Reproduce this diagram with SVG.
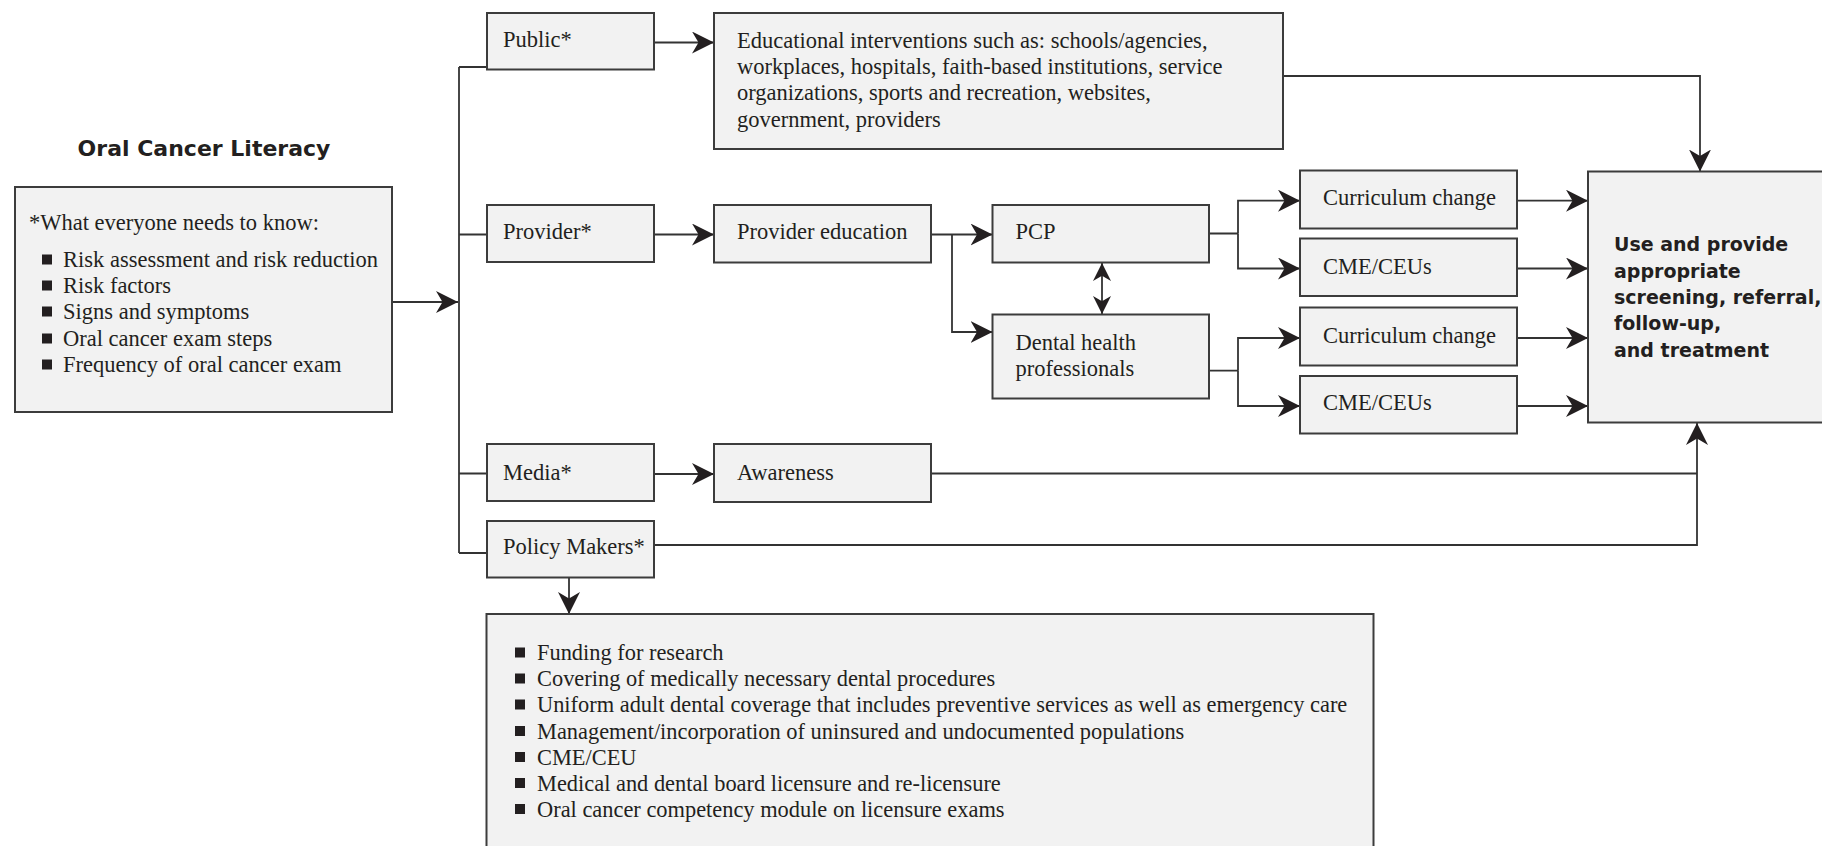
<svg xmlns="http://www.w3.org/2000/svg" width="1822" height="846" viewBox="0 0 1822 846">
<style>
.box{fill:#f2f2f2;stroke:#3c3c3c;stroke-width:2}
.t{font-family:"Liberation Serif","Times New Roman",serif;font-size:22.5px;fill:#231f20}
.l{font-size:22.4px}
.b{font-family:"DejaVu Sans","Liberation Sans",sans-serif;font-weight:bold;fill:#231f20}
.c{fill:none;stroke:#333;stroke-width:1.8}
.a{marker-end:url(#arr)}
.sq{fill:#231f20}
</style>
<defs>
<marker id="arr" viewBox="0 0 22 22" refX="22" refY="11" markerWidth="22" markerHeight="22" markerUnits="userSpaceOnUse" orient="auto">
<path d="M0,0 L22,11 L0,22 L6.5,11 Z" fill="#231f20"/>
</marker>
<marker id="arr2" viewBox="0 0 22 22" refX="22" refY="11" markerWidth="18" markerHeight="18" markerUnits="userSpaceOnUse" orient="auto-start-reverse">
<path d="M0,0 L22,11 L0,22 L6.5,11 Z" fill="#231f20"/>
</marker>
</defs>
<rect width="1822" height="846" fill="#ffffff"/>

<g id="title"><text class="b" x="204" y="156" font-size="22" text-anchor="middle">Oral Cancer Literacy</text></g>

<g id="connectors">
<path class="c a" d="M392,302 H458"/>
<path class="c" d="M459,67 V553"/>
<path class="c" d="M459,67 H487 M459,234.5 H487 M459,473.5 H487 M459,553 H487"/>
<path class="c a" d="M654,42.5 H714"/>
<path class="c a" d="M654,234.5 H714"/>
<path class="c a" d="M931,234.5 H992.5"/>
<path class="c a" d="M952,234.5 V332 H992.5"/>
<path class="c" d="M1102,263 V314" marker-start="url(#arr2)" marker-end="url(#arr2)"/>
<path class="c" d="M1209,233.5 H1238 M1209,370.7 H1238"/>
<path class="c a" d="M1238,233.5 V200.7 H1300"/>
<path class="c a" d="M1238,233.5 V268.5 H1300"/>
<path class="c a" d="M1238,370.7 V338 H1300"/>
<path class="c a" d="M1238,370.7 V406 H1300"/>
<path class="c a" d="M1517,200.7 H1588"/>
<path class="c a" d="M1517,268.5 H1588"/>
<path class="c a" d="M1517,338 H1588"/>
<path class="c a" d="M1517,406 H1588"/>
<path class="c a" d="M1283,76 H1700 V171.5"/>
<path class="c a" d="M654,474 H714"/>
<path class="c" d="M931,473.5 H1697"/>
<path class="c a" d="M654,545 H1697 V423"/>
<path class="c a" d="M569,577.5 V614"/>
</g>

<g id="literacy">
<rect class="box" x="15" y="187" width="377" height="225"/>
<text class="t" x="29" y="230">*What everyone needs to know:</text>
<rect class="sq" x="42" y="254.5" width="10" height="10"/>
<text class="t" x="63" y="267">Risk assessment and risk reduction</text>
<rect class="sq" x="42" y="280.5" width="10" height="10"/>
<text class="t" x="63" y="293">Risk factors</text>
<rect class="sq" x="42" y="306.5" width="10" height="10"/>
<text class="t" x="63" y="319">Signs and symptoms</text>
<rect class="sq" x="42" y="333.5" width="10" height="10"/>
<text class="t" x="63" y="346">Oral cancer exam steps</text>
<rect class="sq" x="42" y="359.5" width="10" height="10"/>
<text class="t" x="63" y="372">Frequency of oral cancer exam</text>
</g>

<g id="public">
<rect class="box" x="487" y="13" width="167" height="56.5"/>
<text class="t" x="503" y="47">Public*</text>
</g>
<g id="education">
<rect class="box" x="714" y="13" width="569" height="136"/>
<text class="t" x="737" y="48" font-size="23">Educational interventions such as: schools/agencies,</text>
<text class="t" x="737" y="74.2" font-size="23">workplaces, hospitals, faith-based institutions, service</text>
<text class="t" x="737" y="100.4" font-size="23">organizations, sports and recreation, websites,</text>
<text class="t" x="737" y="126.6" font-size="23">government, providers</text>
</g>
<g id="provider">
<rect class="box" x="487" y="205" width="167" height="57"/>
<text class="t" x="503" y="238.5">Provider*</text>
</g>
<g id="provider-education">
<rect class="box" x="714" y="205" width="217" height="57.5"/>
<text class="t" x="737" y="238.5">Provider education</text>
</g>
<g id="pcp">
<rect class="box" x="992.5" y="205" width="216.5" height="57.5"/>
<text class="t" x="1015.5" y="239">PCP</text>
</g>
<g id="dental">
<rect class="box" x="992.5" y="314.5" width="216.5" height="84"/>
<text class="t" x="1015.5" y="349.5">Dental health</text>
<text class="t" x="1015.5" y="375.5">professionals</text>
</g>
<g id="curriculum1">
<rect class="box" x="1300" y="170.5" width="217" height="58"/>
<text class="t" x="1323" y="205">Curriculum change</text>
</g>
<g id="cme1">
<rect class="box" x="1300" y="238.5" width="217" height="57.5"/>
<text class="t" x="1323" y="273.5">CME/CEUs</text>
</g>
<g id="curriculum2">
<rect class="box" x="1300" y="307.5" width="217" height="58"/>
<text class="t" x="1323" y="342.5">Curriculum change</text>
</g>
<g id="cme2">
<rect class="box" x="1300" y="376" width="217" height="57.5"/>
<text class="t" x="1323" y="410">CME/CEUs</text>
</g>
<g id="outcome">
<rect class="box" x="1588" y="171.5" width="250" height="251"/>
<text class="b" x="1614" y="251" font-size="19">Use and provide</text>
<text class="b" x="1614" y="277.5" font-size="19">appropriate</text>
<text class="b" x="1614" y="303.5" font-size="19">screening, referral,</text>
<text class="b" x="1614" y="330" font-size="19">follow-up,</text>
<text class="b" x="1614" y="356.5" font-size="19">and treatment</text>
</g>
<g id="media">
<rect class="box" x="487" y="444" width="167" height="57"/>
<text class="t" x="503" y="480">Media*</text>
</g>
<g id="awareness">
<rect class="box" x="714" y="444" width="217" height="58"/>
<text class="t" x="737" y="480">Awareness</text>
</g>
<g id="policy">
<rect class="box" x="487" y="521" width="167" height="56.5"/>
<text class="t" x="503" y="554">Policy Makers*</text>
</g>
<g id="policy-list">
<rect class="box" x="486.5" y="614" width="887" height="250"/>
<rect class="sq" x="515" y="647.5" width="10" height="10"/>
<text class="t l" x="537" y="660">Funding for research</text>
<rect class="sq" x="515" y="673.5" width="10" height="10"/>
<text class="t l" x="537" y="686">Covering of medically necessary dental procedures</text>
<rect class="sq" x="515" y="699.5" width="10" height="10"/>
<text class="t l" x="537" y="712">Uniform adult dental coverage that includes preventive services as well as emergency care</text>
<rect class="sq" x="515" y="726" width="10" height="10"/>
<text class="t l" x="537" y="738.5">Management/incorporation of uninsured and undocumented populations</text>
<rect class="sq" x="515" y="752" width="10" height="10"/>
<text class="t l" x="537" y="764.5">CME/CEU</text>
<rect class="sq" x="515" y="778" width="10" height="10"/>
<text class="t l" x="537" y="790.5">Medical and dental board licensure and re-licensure</text>
<rect class="sq" x="515" y="804" width="10" height="10"/>
<text class="t l" x="537" y="816.5">Oral cancer competency module on licensure exams</text>
</g>
</svg>
